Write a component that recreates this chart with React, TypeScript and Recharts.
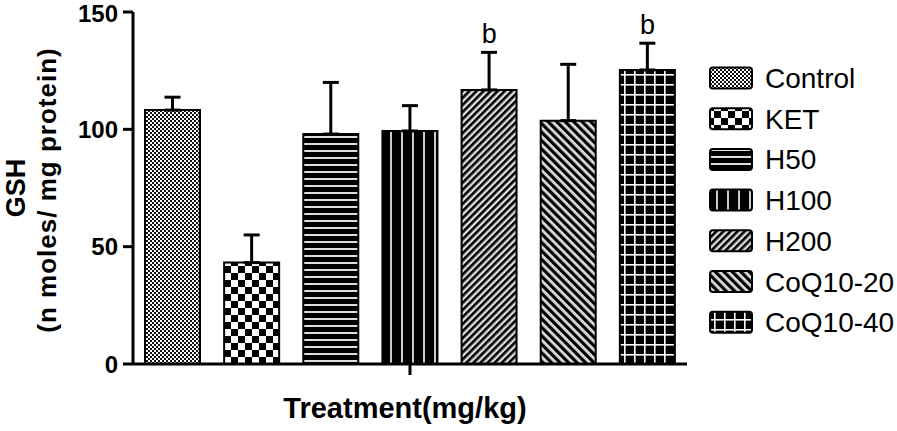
import React from 'react';
import { ComposedChart, Bar, Cell, Line, XAxis, YAxis, ErrorBar, LabelList } from 'recharts';

const groups = ['Control', 'KET', 'H50', 'H100', 'H200', 'CoQ10-20', 'CoQ10-40'];
const gshMean = [108.2, 43.2, 98, 99.3, 116.8, 103.7, 125.3];
const gshSem = [5.5, 11.8, 22, 10.8, 16, 24, 11.4];
const sigLetters = ['', '', '', '', 'b', '', 'b'];
const yTicks = [0, 50, 100, 150];

const patternKeys = ['ctrl', 'ket', 'h50', 'h100', 'h200', 'coq20', 'coq40'];

const data = groups.map((name, i) => ({
  name,
  mean: gshMean[i],
  err: [0, gshSem[i]],
  top: gshMean[i] + gshSem[i],
  sig: sigLetters[i],
}));

const FONT = '"Liberation Sans", Arial, sans-serif';

// hatch fills, one per treatment group
function renderPatterns(prefix: string) {
  return (
    <defs>
      <pattern id={`${prefix}-ctrl`} width={4} height={4} patternUnits="userSpaceOnUse">
        <rect width={4} height={4} fill="#111" />
        <rect width={2} height={2} fill="#fff" />
        <rect x={2} y={2} width={2} height={2} fill="#fff" />
      </pattern>
      <pattern id={`${prefix}-ket`} width={14} height={14} patternUnits="userSpaceOnUse">
        <rect width={14} height={14} fill="#fff" />
        <rect width={7} height={7} fill="#000" />
        <rect x={7} y={7} width={7} height={7} fill="#000" />
      </pattern>
      <pattern id={`${prefix}-h50`} width={7} height={7} patternUnits="userSpaceOnUse">
        <rect width={7} height={7} fill="#000" />
        <rect y={3} width={7} height={2} fill="#ddd" />
      </pattern>
      <pattern id={`${prefix}-h100`} width={11} height={11} patternUnits="userSpaceOnUse">
        <rect width={11} height={11} fill="#000" />
        <rect x={5} width={2} height={11} fill="#ccc" />
      </pattern>
      <pattern id={`${prefix}-h200`} width={5} height={5} patternUnits="userSpaceOnUse" patternTransform="rotate(45)">
        <rect width={5} height={5} fill="#ddd" />
        <rect width={2.6} height={5} fill="#000" />
      </pattern>
      <pattern id={`${prefix}-coq20`} width={6} height={6} patternUnits="userSpaceOnUse" patternTransform="rotate(-45)">
        <rect width={6} height={6} fill="#ddd" />
        <rect width={3.2} height={6} fill="#000" />
      </pattern>
      <pattern id={`${prefix}-coq40`} width={10} height={10} patternUnits="userSpaceOnUse">
        <rect width={10} height={10} fill="#000" />
        <rect x={4} width={1.6} height={10} fill="#fff" />
        <rect y={4} width={10} height={1.6} fill="#fff" />
      </pattern>
    </defs>
  );
}

const MiddleTick = (props: any) => {
  const { x, y, index } = props;
  if (index !== 3) return <g />;
  return <line x1={x} y1={y} x2={x} y2={y + 11} stroke="#000" strokeWidth={3} />;
};

const YTitle = () => (
  <g fontFamily={FONT} fontWeight="bold" fill="#000">
    <text x={25} y={188} transform="rotate(-90, 25, 188)" textAnchor="middle" fontSize={27}>
      GSH
    </text>
    <text x={56} y={190} transform="rotate(-90, 56, 190)" textAnchor="middle" fontSize={26} letterSpacing={1}>
      (n moles/ mg protein)
    </text>
  </g>
);

const XTitle = () => (
  <text x={405} y={418} textAnchor="middle" fontFamily={FONT} fontWeight="bold" fontSize={29} fill="#000">
    Treatment(mg/kg)
  </text>
);

const LegendBox = () => (
  <svg width={197} height={290} style={{ position: 'absolute', left: 700, top: 55 }}>
    {renderPatterns('lg')}
    {groups.map((g, i) => {
      const cy = 23 + i * 40.7;
      return (
        <g key={g}>
          <rect x={10} y={cy - 10.5} width={42} height={21} rx={3} fill={`url(#lg-${patternKeys[i]})`} stroke="#000" strokeWidth={2} />
          <text x={65} y={cy + 10} fontFamily={FONT} fontSize={28} fill="#000">
            {g}
          </text>
        </g>
      );
    })}
  </svg>
);

export default function App() {
  return (
    <div style={{ position: 'absolute', left: 0, top: 0, width: 897, height: 431, background: '#fff' }}>
      <ComposedChart width={897} height={431} data={data} margin={{ top: 12, right: 210, left: 0, bottom: 37 }}>
        {renderPatterns('bar')}
        <XAxis
          dataKey="name"
          height={30}
          axisLine={{ stroke: '#000', strokeWidth: 3 }}
          tickLine={false}
          tickSize={0}
          tickMargin={0}
          tick={<MiddleTick />}
          interval={0}
          label={<XTitle />}
        />
        <YAxis
          width={133}
          domain={[0, 150]}
          ticks={yTicks}
          axisLine={{ stroke: '#000', strokeWidth: 3 }}
          tickLine={{ stroke: '#000', strokeWidth: 3 }}
          tickSize={10}
          tickMargin={5}
          tick={{ fill: '#000', fontSize: 24, fontWeight: 'bold', fontFamily: FONT }}
          label={<YTitle />}
        />
        <Bar dataKey="mean" barSize={55} stroke="#000" strokeWidth={2} isAnimationActive={false}>
          {data.map((d, i) => (
            <Cell key={d.name} fill={`url(#bar-${patternKeys[i]})`} />
          ))}
          <ErrorBar dataKey="err" direction="y" width={8} stroke="#000" strokeWidth={3} />
        </Bar>
        <Line dataKey="top" stroke="none" dot={false} activeDot={false} isAnimationActive={false}>
          <LabelList dataKey="sig" position="top" offset={9} fill="#000" fontSize={27} fontFamily={FONT} />
        </Line>
      </ComposedChart>
      <LegendBox />
    </div>
  );
}
